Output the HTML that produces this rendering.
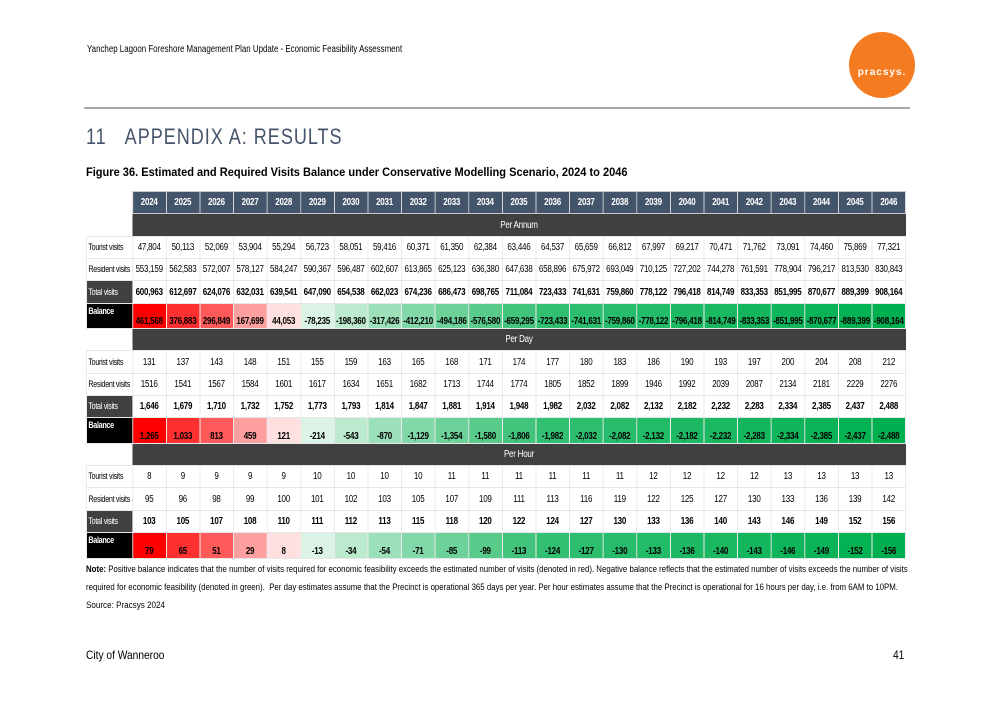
<!DOCTYPE html>
<html><head><meta charset="utf-8"><style>
body{margin:0;width:993px;height:702px;background:#fff;position:relative;overflow:hidden;font-family:"Liberation Sans",sans-serif;color:#000}
.a{position:absolute;white-space:nowrap;transform-origin:0 0}
table{position:absolute;left:86px;top:191px;border-collapse:collapse;table-layout:fixed;width:1025px;font-size:10px;transform:scaleX(0.8);transform-origin:0 0}
td{border:1px solid #e6e6e6;text-align:center;height:21.35px;line-height:11px;padding:0;overflow:hidden;white-space:nowrap;letter-spacing:-0.3px}
td.l{text-align:left;padding-left:2px;width:55px;font-size:9px;letter-spacing:-0.4px}
tr.h td{background:#44546a;color:#fff;font-weight:bold;border:1px solid #c8c8c8}
tr.h td.e{background:#fff;border:none}
tr.band td.e{background:#fff;border:none}
tr.band td.d{background:#404040;color:#fff;border:none}
tr.t td{font-weight:bold}
tr.t td.l{background:#404040;color:#fff;font-weight:normal}
tr.b td{font-weight:bold;vertical-align:bottom;padding-bottom:1px}
tr.b td.l{background:#000;color:#fff;vertical-align:top;padding-top:2px;font-weight:bold}
</style></head><body>
<div class="a" style="left:87px;top:44px;font-size:10px;transform:scaleX(0.79)">Yanchep Lagoon Foreshore Management Plan Update - Economic Feasibility Assessment</div>
<div class="a" style="left:849px;top:32px;width:66px;height:66px;border-radius:50%;background:#f47b20"></div>
<div class="a" style="left:849px;top:67px;width:66px;text-align:center;color:#fff;font-weight:bold;font-size:10px;letter-spacing:1px">pracsys.</div>
<div class="a" style="left:84px;top:107px;width:826px;height:2px;background:#a6a6a6"></div>
<div class="a" style="left:86px;top:124px;font-size:22px;color:#44546a;letter-spacing:1.2px;transform:scaleX(0.82)">11&nbsp;&nbsp;&nbsp;APPENDIX A: RESULTS</div>
<div class="a" style="left:86px;top:165px;font-size:12px;font-weight:bold;transform:scaleX(0.92)">Figure 36. Estimated and Required Visits Balance under Conservative Modelling Scenario, 2024 to 2046</div>
<table>
<tr class="h"><td class="e l"></td><td>2024</td><td>2025</td><td>2026</td><td>2027</td><td>2028</td><td>2029</td><td>2030</td><td>2031</td><td>2032</td><td>2033</td><td>2034</td><td>2035</td><td>2036</td><td>2037</td><td>2038</td><td>2039</td><td>2040</td><td>2041</td><td>2042</td><td>2043</td><td>2044</td><td>2045</td><td>2046</td></tr>
<tr class="band"><td class="e"></td><td class="d" colspan="23">Per Annum</td></tr>
<tr><td class="l">Tourist visits</td><td>47,804</td><td>50,113</td><td>52,069</td><td>53,904</td><td>55,294</td><td>56,723</td><td>58,051</td><td>59,416</td><td>60,371</td><td>61,350</td><td>62,384</td><td>63,446</td><td>64,537</td><td>65,659</td><td>66,812</td><td>67,997</td><td>69,217</td><td>70,471</td><td>71,762</td><td>73,091</td><td>74,460</td><td>75,869</td><td>77,321</td></tr>
<tr><td class="l">Resident visits</td><td>553,159</td><td>562,583</td><td>572,007</td><td>578,127</td><td>584,247</td><td>590,367</td><td>596,487</td><td>602,607</td><td>613,865</td><td>625,123</td><td>636,380</td><td>647,638</td><td>658,896</td><td>675,972</td><td>693,049</td><td>710,125</td><td>727,202</td><td>744,278</td><td>761,591</td><td>778,904</td><td>796,217</td><td>813,530</td><td>830,843</td></tr>
<tr class="t"><td class="l">Total visits</td><td>600,963</td><td>612,697</td><td>624,076</td><td>632,031</td><td>639,541</td><td>647,090</td><td>654,538</td><td>662,023</td><td>674,236</td><td>686,473</td><td>698,765</td><td>711,084</td><td>723,433</td><td>741,631</td><td>759,860</td><td>778,122</td><td>796,418</td><td>814,749</td><td>833,353</td><td>851,995</td><td>870,677</td><td>889,399</td><td>908,164</td></tr>
<tr class="b"><td class="l">Balance</td><td style="background:#ff0000">461,568</td><td style="background:#ff3030">376,883</td><td style="background:#ff5a5a">296,849</td><td style="background:#ffa0a0">167,699</td><td style="background:#ffe0e0">44,053</td><td style="background:#dbf4e5">-78,235</td><td style="background:#bceacf">-198,360</td><td style="background:#9ce0ba">-317,426</td><td style="background:#83d8a9">-412,210</td><td style="background:#6dd29a">-494,186</td><td style="background:#58cb8b">-576,580</td><td style="background:#42c47d">-659,295</td><td style="background:#31bf71">-723,433</td><td style="background:#2cbe6e">-741,631</td><td style="background:#27bc6b">-759,860</td><td style="background:#22bb67">-778,122</td><td style="background:#1eb964">-796,418</td><td style="background:#19b861">-814,749</td><td style="background:#14b65d">-833,353</td><td style="background:#0fb55a">-851,995</td><td style="background:#0ab357">-870,677</td><td style="background:#05b253">-889,399</td><td style="background:#00b050">-908,164</td></tr>
<tr class="band"><td class="e"></td><td class="d" colspan="23">Per Day</td></tr>
<tr><td class="l">Tourist visits</td><td>131</td><td>137</td><td>143</td><td>148</td><td>151</td><td>155</td><td>159</td><td>163</td><td>165</td><td>168</td><td>171</td><td>174</td><td>177</td><td>180</td><td>183</td><td>186</td><td>190</td><td>193</td><td>197</td><td>200</td><td>204</td><td>208</td><td>212</td></tr>
<tr><td class="l">Resident visits</td><td>1516</td><td>1541</td><td>1567</td><td>1584</td><td>1601</td><td>1617</td><td>1634</td><td>1651</td><td>1682</td><td>1713</td><td>1744</td><td>1774</td><td>1805</td><td>1852</td><td>1899</td><td>1946</td><td>1992</td><td>2039</td><td>2087</td><td>2134</td><td>2181</td><td>2229</td><td>2276</td></tr>
<tr class="t"><td class="l">Total visits</td><td>1,646</td><td>1,679</td><td>1,710</td><td>1,732</td><td>1,752</td><td>1,773</td><td>1,793</td><td>1,814</td><td>1,847</td><td>1,881</td><td>1,914</td><td>1,948</td><td>1,982</td><td>2,032</td><td>2,082</td><td>2,132</td><td>2,182</td><td>2,232</td><td>2,283</td><td>2,334</td><td>2,385</td><td>2,437</td><td>2,488</td></tr>
<tr class="b"><td class="l">Balance</td><td style="background:#ff0000">1,265</td><td style="background:#ff3030">1,033</td><td style="background:#ff5a5a">813</td><td style="background:#ffa0a0">459</td><td style="background:#ffe0e0">121</td><td style="background:#dbf4e5">-214</td><td style="background:#bceacf">-543</td><td style="background:#9ce0ba">-870</td><td style="background:#83d8a9">-1,129</td><td style="background:#6dd29a">-1,354</td><td style="background:#58cb8b">-1,580</td><td style="background:#42c47d">-1,806</td><td style="background:#31bf71">-1,982</td><td style="background:#2cbe6e">-2,032</td><td style="background:#27bc6b">-2,082</td><td style="background:#22bb67">-2,132</td><td style="background:#1eb964">-2,182</td><td style="background:#19b861">-2,232</td><td style="background:#14b65d">-2,283</td><td style="background:#0fb55a">-2,334</td><td style="background:#0ab357">-2,385</td><td style="background:#05b253">-2,437</td><td style="background:#00b050">-2,488</td></tr>
<tr class="band"><td class="e"></td><td class="d" colspan="23">Per Hour</td></tr>
<tr><td class="l">Tourist visits</td><td>8</td><td>9</td><td>9</td><td>9</td><td>9</td><td>10</td><td>10</td><td>10</td><td>10</td><td>11</td><td>11</td><td>11</td><td>11</td><td>11</td><td>11</td><td>12</td><td>12</td><td>12</td><td>12</td><td>13</td><td>13</td><td>13</td><td>13</td></tr>
<tr><td class="l">Resident visits</td><td>95</td><td>96</td><td>98</td><td>99</td><td>100</td><td>101</td><td>102</td><td>103</td><td>105</td><td>107</td><td>109</td><td>111</td><td>113</td><td>116</td><td>119</td><td>122</td><td>125</td><td>127</td><td>130</td><td>133</td><td>136</td><td>139</td><td>142</td></tr>
<tr class="t"><td class="l">Total visits</td><td>103</td><td>105</td><td>107</td><td>108</td><td>110</td><td>111</td><td>112</td><td>113</td><td>115</td><td>118</td><td>120</td><td>122</td><td>124</td><td>127</td><td>130</td><td>133</td><td>136</td><td>140</td><td>143</td><td>146</td><td>149</td><td>152</td><td>156</td></tr>
<tr class="b"><td class="l">Balance</td><td style="background:#ff0000">79</td><td style="background:#ff3030">65</td><td style="background:#ff5a5a">51</td><td style="background:#ffa0a0">29</td><td style="background:#ffe0e0">8</td><td style="background:#dbf4e5">-13</td><td style="background:#bceacf">-34</td><td style="background:#9ce0ba">-54</td><td style="background:#83d8a9">-71</td><td style="background:#6dd29a">-85</td><td style="background:#58cb8b">-99</td><td style="background:#42c47d">-113</td><td style="background:#31bf71">-124</td><td style="background:#2cbe6e">-127</td><td style="background:#27bc6b">-130</td><td style="background:#22bb67">-133</td><td style="background:#1eb964">-136</td><td style="background:#19b861">-140</td><td style="background:#14b65d">-143</td><td style="background:#0fb55a">-146</td><td style="background:#0ab357">-149</td><td style="background:#05b253">-152</td><td style="background:#00b050">-156</td></tr>
</table>
<div class="a" style="left:86px;top:564px;font-size:9.5px;transform:scaleX(0.826)"><b>Note:</b> Positive balance indicates that the number of visits required for economic feasibility exceeds the estimated number of visits (denoted in red). Negative balance reflects that the estimated number of visits exceeds the number of visits</div>
<div class="a" style="left:86px;top:582px;font-size:9.5px;transform:scaleX(0.826)">required for economic feasibility (denoted in green).&nbsp; Per day estimates assume that the Precinct is operational 365 days per year. Per hour estimates assume that the Precinct is operational for 16 hours per day, i.e. from 6AM to 10PM.</div>
<div class="a" style="left:86px;top:600px;font-size:9.5px;transform:scaleX(0.85)">Source: Pracsys 2024</div>
<div class="a" style="left:86px;top:648px;font-size:12px;transform:scaleX(0.85)">City of Wanneroo</div>
<div class="a" style="left:893px;top:648px;font-size:12px;transform:scaleX(0.85)">41</div>
</body></html>
